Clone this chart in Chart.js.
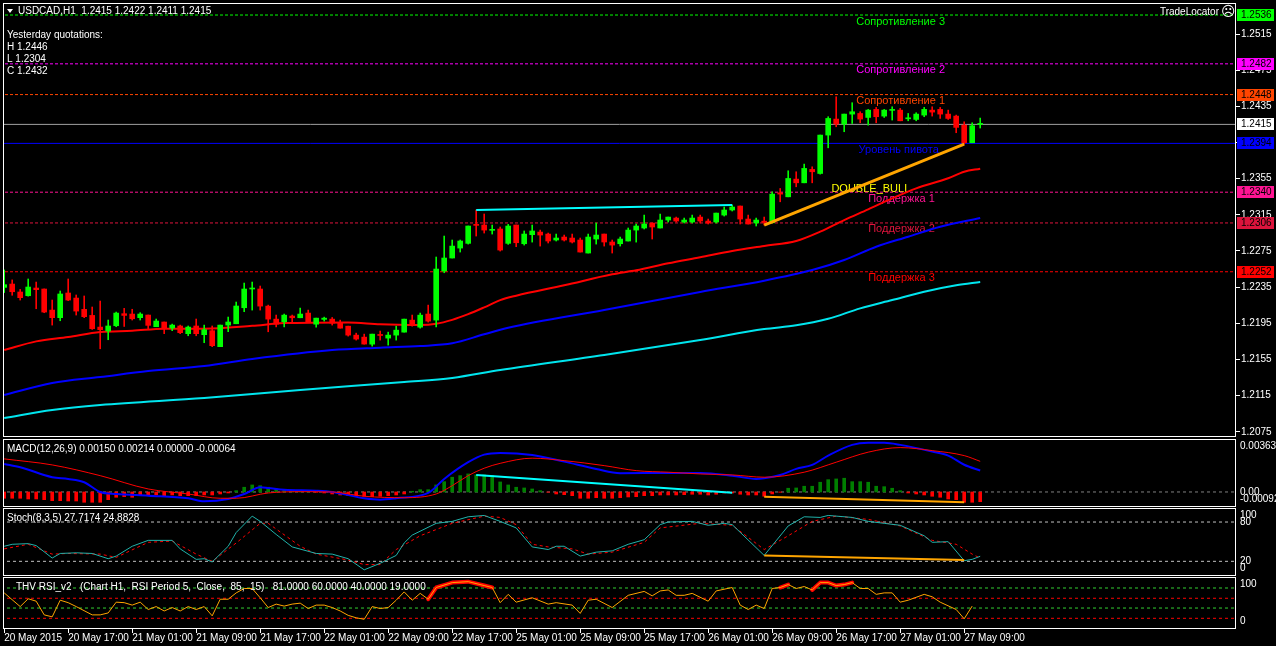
<!DOCTYPE html>
<html>
<head>
<meta charset="utf-8">
<title>USDCAD,H1</title>
<script src="https://cdn.jsdelivr.net/npm/chart.js@4.4.1/dist/chart.umd.min.js"></script>
<style>
  html, body { margin: 0; padding: 0; background: #000; overflow: hidden; }
  canvas { position: absolute; left: 0; }
</style>
</head>
<body>
<canvas id="main" width="1276" height="438" style="top:0"></canvas>
<canvas id="macd" width="1276" height="69" style="top:438px"></canvas>
<canvas id="stoch" width="1276" height="70" style="top:507px"></canvas>
<canvas id="rsi" width="1276" height="70" style="top:576px"></canvas>
<script>
/* USDCAD H1 terminal screenshot: candles + 3 MAs + pivot levels, MACD, Stochastic and RSI panes */

// ---- candles (one per hour, bar 0 = 20 May 09:00) ----
const opens = [1.22347,1.22384,1.22296,1.22255,1.2234,1.22329,1.22096,1.22012,1.22285,1.22229,
  1.22104,1.22037,1.21908,1.21864,1.21923,1.22056,1.22052,1.22012,1.22041,1.21912,
  1.21964,1.21897,1.2192,1.21835,1.2192,1.21824,1.21868,1.21691,1.2193,1.21945,
  1.22122,1.22329,1.22329,1.2214,1.21996,1.21967,1.2203,1.22011,1.22063,1.2194,
  1.21993,1.21996,1.21952,1.21918,1.21819,1.21797,1.21719,1.21823,1.21786,1.21819,
  1.21852,1.21985,1.21907,1.22052,1.21985,1.22528,1.22672,1.22782,1.22834,1.2304,
  1.23037,1.22978,1.22993,1.22834,1.23037,1.2283,1.2293,1.22959,1.22937,1.22871,
  1.22904,1.22893,1.22871,1.22727,1.22882,1.22937,1.22849,1.2283,1.2286,1.22981,
  1.23004,1.23059,1.23004,1.23092,1.23114,1.2307,1.2307,1.23125,1.23081,1.2307,
  1.23147,1.23203,1.23247,1.23103,1.23059,1.2308,1.23061,1.23393,1.23349,1.23545,
  1.23504,1.23652,1.23607,1.24032,1.24209,1.24153,1.24264,1.24271,1.24227,1.24316,
  1.24242,1.24305,1.24308,1.24212,1.24205,1.24253,1.24308,1.24316,1.24264,1.24242,
  1.24142,1.23947,1.2415];
const highs = [1.2254,1.2243,1.22325,1.2244,1.22406,1.2233,1.22207,1.22307,1.2244,1.22263,
  1.22252,1.2213,1.22196,1.21986,1.22074,1.22115,1.22105,1.22067,1.22041,1.21997,
  1.21964,1.21941,1.2193,1.2192,1.21997,1.2193,1.2192,1.2193,1.22019,1.22185,
  1.22395,1.22406,1.22362,1.22151,1.22041,1.22052,1.22041,1.22118,1.22096,1.22007,
  1.22018,1.22014,1.21985,1.21918,1.21841,1.2183,1.2183,1.21864,1.21852,1.21918,
  1.21996,1.22041,1.22063,1.22151,1.22683,1.22915,1.22871,1.22871,1.23026,1.23203,
  1.23159,1.23037,1.23015,1.23044,1.23037,1.22971,1.23037,1.22981,1.22948,1.22937,
  1.22926,1.22937,1.22893,1.22937,1.23059,1.22937,1.22871,1.22904,1.23004,1.23048,
  1.23147,1.23059,1.23158,1.23125,1.23125,1.23114,1.23147,1.23147,1.23103,1.23169,
  1.23236,1.23258,1.23247,1.23147,1.23114,1.23125,1.23404,1.23441,1.23637,1.23626,
  1.23711,1.23681,1.24032,1.24235,1.24456,1.24264,1.2439,1.2429,1.24316,1.24338,
  1.24316,1.24345,1.24327,1.24271,1.24279,1.24338,1.24345,1.24338,1.24308,1.24253,
  1.24179,1.24168,1.2422];
const lows = [1.2229,1.2226,1.22207,1.2225,1.22111,1.22067,1.2193,1.21978,1.222,1.22041,
  1.22012,1.21882,1.21668,1.21768,1.21912,1.21915,1.21986,1.21986,1.21882,1.21912,
  1.21835,1.21868,1.21835,1.21812,1.21812,1.21735,1.21691,1.21691,1.21857,1.21945,
  1.22078,1.22096,1.22096,1.21856,1.2191,1.2191,1.21948,1.22011,1.21963,1.21907,
  1.21974,1.2193,1.21896,1.21808,1.21764,1.21719,1.21697,1.21764,1.21708,1.21764,
  1.21852,1.21918,1.21896,1.21963,1.2191,1.22509,1.22672,1.22738,1.22826,1.22915,
  1.22948,1.22937,1.22749,1.22823,1.22797,1.22815,1.22848,1.22804,1.22838,1.2286,
  1.2286,1.22838,1.22738,1.22727,1.22826,1.22804,1.22727,1.22804,1.2286,1.22848,
  1.22993,1.22882,1.23004,1.2307,1.2307,1.23059,1.23059,1.23059,1.23048,1.23059,
  1.23136,1.23192,1.23048,1.23048,1.23026,1.23037,1.23061,1.23294,1.23349,1.2346,
  1.23504,1.23504,1.236,1.23891,1.24124,1.24069,1.2416,1.24168,1.24142,1.24168,
  1.24227,1.24198,1.2419,1.2419,1.2419,1.24235,1.24242,1.24216,1.24205,1.24058,
  1.23932,1.23947,1.2411];
const closes = [1.22377,1.22299,1.22233,1.22351,1.22322,1.22074,1.22012,1.22274,1.22207,1.22085,
  1.22023,1.2189,1.21879,1.2192,1.22063,1.22037,1.22,1.22052,1.21927,1.21975,
  1.2189,1.2193,1.21846,1.21908,1.21835,1.21879,1.21702,1.2193,1.21964,1.22141,
  1.22329,1.2234,1.2214,1.21996,1.2194,1.2204,1.22011,1.22052,1.21963,1.22007,
  1.22007,1.21952,1.21896,1.21819,1.21775,1.2172,1.2183,1.21815,1.21819,1.21874,
  1.21996,1.2193,1.2204,1.21974,1.2255,1.22672,1.22804,1.2286,1.23026,1.23033,
  1.22981,1.22985,1.2276,1.23026,1.22841,1.22937,1.22971,1.22926,1.2286,1.22893,
  1.22871,1.22849,1.22738,1.22904,1.22926,1.22849,1.22815,1.22882,1.22981,1.23026,
  1.23048,1.23015,1.23092,1.23125,1.23081,1.23092,1.23114,1.23081,1.23059,1.23169,
  1.23203,1.23236,1.23103,1.23048,1.23092,1.23065,1.23379,1.23379,1.23552,1.23504,
  1.23663,1.23626,1.24032,1.24216,1.24153,1.24264,1.2429,1.24209,1.24308,1.24235,
  1.24308,1.24312,1.2419,1.2422,1.24264,1.24316,1.24286,1.24264,1.24216,1.24117,
  1.23947,1.24135,1.2415];

// moving averages, read as [bar, price]
const maRed = [[0,1.21654],[4,1.2175],[8,1.21798],[12,1.21853],[16,1.21867],[20,1.2189],[25,1.2189],
  [31,1.21922],[35,1.21952],[43,1.2196],[47,1.21938],[52,1.2193],[54,1.21944],[56,1.21988],[58,1.22051],
  [60,1.22126],[62,1.22206],[64,1.22255],[70,1.2237],[76,1.22492],[79,1.22536],[83,1.22613],[87,1.2268],
  [91,1.2275],[95,1.22805],[99,1.2286],[102,1.22963],[105,1.23092],[108,1.2321],[111,1.23332],
  [114,1.23443],[118,1.23554],[120,1.23627],[122,1.2366]];
const maBlue = [[0,1.21156],[6,1.21289],[12,1.21355],[18,1.21422],[25,1.21477],[31,1.21555],[41,1.21654],
  [47,1.2168],[52,1.21698],[56,1.21728],[60,1.21828],[63,1.21901],[75,1.22097],[87,1.22296],[95,1.22421],
  [101,1.22539],[105,1.2265],[109,1.22797],[113,1.22908],[117,1.23018],[122,1.23114]];
const maCyan = [[0,1.20902],[6,1.2099],[12,1.21046],[25,1.21123],[37,1.21212],[50,1.213],[56,1.21345],
  [62,1.21433],[75,1.21599],[87,1.21765],[95,1.21886],[99,1.21927],[103,1.22],[107,1.22115],[111,1.22207],
  [115,1.22299],[119,1.2237],[122,1.22406]];

// pivot levels
const levelNames = ['Сопротивление 3', 'Сопротивление 2', 'Сопротивление 1', 'Уровень пивота', 'Поддержка 1', 'Поддержка 2', 'Поддержка 3'];
const levelValues = [1.2536, 1.2482, 1.2448, 1.2394, 1.2340, 1.2306, 1.2252];
const bidPrice = 1.2415;
const priceTicks = [1.2075, 1.2115, 1.2155, 1.2195, 1.2235, 1.2275, 1.2315, 1.2355, 1.2395, 1.2435, 1.2475, 1.2515];

// trend lines drawn on the chart, [bar, value]
const mainCyanLine = [[59, 1.23203], [91, 1.23258]];
const mainOrangeLine = [[95, 1.23037], [120, 1.23932]];

// MACD(12,26,9)
const macdHist = [-0.00044,-0.00044,-0.00044,-0.00049,-0.00049,-0.00054,-0.00061,-0.00061,-0.00063,-0.00063,
  -0.00072,-0.00072,-0.00072,-0.00054,-0.00037,-0.00033,-0.00037,-0.00026,-0.00026,-0.00021,
  -0.00026,-0.00021,-0.00026,-0.00026,-0.00026,-0.00021,-0.00021,-0.00014,-0.00007,0.00009,
  0.00033,0.00049,0.00044,0.00033,0.00021,0.00016,0.00009,0.00005,0.00002,-0.00002,
  -0.00007,-0.00014,-0.00021,-0.00026,-0.0003,-0.0003,-0.00033,-0.0003,-0.00026,-0.00021,
  -0.00014,0.00005,0.00016,0.00016,0.00049,0.00072,0.00103,0.00114,0.00126,0.00119,
  0.00119,0.00114,0.0007,0.00049,0.00033,0.00028,0.00021,0.00009,-0.00002,-0.00014,
  -0.00019,-0.00026,-0.00044,-0.00044,-0.0004,-0.00044,-0.00044,-0.0004,-0.00035,-0.00033,
  -0.00026,-0.00026,-0.00021,-0.00021,-0.00021,-0.00019,-0.00016,-0.00016,-0.00021,-0.00016,
  -0.00007,-0.00007,-0.00016,-0.00021,-0.00021,-0.0003,-0.00014,-0.00002,0.00026,0.00028,
  0.0004,0.0004,0.00068,0.00086,0.00091,0.00096,0.00072,0.00072,0.00068,0.0004,
  0.00037,0.00026,0.00009,-0.00007,-0.00014,-0.00021,-0.0003,-0.00037,-0.00049,-0.00054,
  -0.00072,-0.00072,-0.00068];
const macdMain = [[0,0.00196],[2,0.00173],[6,0.00103],[8,0.00091],[10,0.00068],[12,0],[14,-0.00014],
  [18,-0.00026],[23,-0.00044],[25,-0.00065],[28,-0.00049],[30,-0.00014],[32,0.00033],[33,0.00028],
  [35,0.00016],[39,0.00009],[41,0],[45,-0.00044],[47,-0.00054],[49,-0.00044],[53,-0.00007],[55,0.00091],
  [58,0.00208],[60,0.00261],[62,0.00273],[66,0.00259],[70,0.00212],[74,0.00161],[77,0.00131],[83,0.00133],
  [87,0.00133],[91,0.00114],[94,0.00091],[95,0.00096],[97,0.00119],[99,0.00161],[101,0.00189],[103,0.00254],
  [106,0.00329],[108,0.00343],[110,0.00343],[112,0.00329],[116,0.00282],[118,0.00254],[120,0.0019],[122,0.0015]];
const macdSignal = [[0,0.00231],[6,0.00189],[12,0.00114],[18,0.00021],[23,-0.00014],[27,-0.00044],[29,-0.00044],
  [33,-0.00007],[37,0.00002],[41,0],[45,-0.0003],[50,-0.0004],[54,-0.00014],[56,0.00044],[58,0.00114],
  [60,0.00166],[62,0.002],[66,0.00236],[70,0.00219],[75,0.00184],[79,0.00149],[83,0.00138],[87,0.00126],
  [91,0.00119],[95,0.00103],[100,0.00138],[104,0.00208],[108,0.00278],[112,0.0031],[116,0.00289],
  [120,0.00254],[122,0.00214]];
const macdCyanLine = [[59, 0.00118], [91, -0.00006]];
const macdOrangeLine = [[95, -0.00034], [120, -0.00071]];
const macdTicks = [0.00363, 0, -0.00092];
const macdTickText = ['0.00363', '0.00', '-0.00092'];

// Stochastic(8,3,5)
const stochMain = [[0,43],[1,46],[3,47],[4,44],[6,25],[7,32],[9,33],[11,32],[13,24],[14,28],[16,43],[18,52],
  [21,52],[22,39],[24,23],[25,24],[26,19],[28,43],[29,64],[31,89],[32,81],[34,61],[36,42],[39,32],[41,31],
  [43,24],[45,7],[47,17],[49,29],[50,48],[51,60],[54,78],[56,81],[58,88],[60,90],[62,81],[64,71],[66,42],
  [68,38],[69,43],[70,43],[72,28],[74,34],[76,36],[78,46],[80,53],[82,76],[83,80],[86,81],[88,75],[90,78],
  [91,76],[95,29],[98,74],[100,88],[102,87],[103,90],[106,87],[108,81],[110,78],[112,75],[115,59],[116,49],
  [118,50],[120,21],[121,23],[122,27.7]];
const stochSignal = [[0,39],[3,46],[6,31],[8,32],[12,31],[14,26],[18,49],[21,51],[24,31],[26,20],[29,48],
  [32,78],[33,78],[37,43],[39,31],[43,22],[45,15],[47,15],[49,38],[52,59],[56,78],[60,89],[62,87],[64,76],
  [66,46],[68,42],[71,39],[73,31],[76,34],[80,49],[82,71],[87,78],[91,75],[95,38],[98,59],[101,81],[104,89],
  [108,84],[112,74],[116,52],[119,46],[121,31],[122,24.9]];
const stochOrangeLine = [[95, 29], [120, 22]];
const stochLevels = [80, 20];
const stochTicks = [100, 80, 20, 0];

// THV RSI_v2
const rsiLine = [[0,71],[2,43],[3,59],[4,54],[5,26],[6,22],[7,56],[8,51],[9,43],[11,26],[12,26],[13,30],
  [14,52],[15,51],[16,46],[17,52],[18,37],[19,43],[20,34],[21,41],[22,34],[23,43],[24,37],[25,43],[26,24],
  [27,58],[28,58],[29,71],[30,80],[31,80],[32,61],[33,41],[34,48],[35,44],[36,48],[37,50],[38,39],[39,46],
  [40,46],[41,41],[42,34],[43,25],[44,20],[45,17],[46,43],[47,39],[48,41],[49,56],[50,73],[51,56],[52,70],
  [53,58],[54,82],[56,92],[58,94],[60,86],[61,82],[62,51],[63,68],[64,52],[66,61],[68,48],[69,51],[71,46],
  [72,29],[73,56],[74,58],[76,41],[78,66],[80,74],[81,65],[82,75],[83,77],[84,66],[85,66],[86,70],[88,54],
  [89,75],[91,82],[92,46],[93,37],[94,46],[95,39],[96,80],[97,82],[98,88],[99,80],[100,84],[101,77],
  [102,92],[103,92],[104,86],[105,88],[106,92],[107,80],[108,80],[109,68],[110,71],[111,71],[112,52],
  [113,56],[115,68],[116,63],[117,52],[119,37],[120,18],[121,44]];
const rsiHotRanges = [[53, 61], [97, 98], [101, 106]];
const rsiLevels = [81, 60, 40, 19];
const rsiTicks = [100, 0];

// time axis
const timeTickBars = [0, 8, 16, 24, 32, 40, 48, 56, 64, 72, 80, 88, 96, 104, 112, 120];
const timeLabels = ['20 May 2015', '20 May 17:00', '21 May 01:00', '21 May 09:00', '21 May 17:00', '22 May 01:00',
  '22 May 09:00', '22 May 17:00', '25 May 01:00', '25 May 09:00', '25 May 17:00', '26 May 01:00',
  '26 May 09:00', '26 May 17:00', '27 May 01:00', '27 May 09:00'];

// ---- styling ----
const FONT = '"Liberation Sans", Arial, sans-serif';
const UP = '#00ff00', DOWN = '#ff0000';
const levelColors = ['#00ff00', '#ff00ff', '#ff4500', '#0000ff', '#ff1493', '#dc143c', '#ff0000'];
const levelLabelBars = [106.5, 106.5, 106.5, 106.8, 108, 108, 108];
const XMIN = -0.15, XMAX = 153.975; // 8 px per bar across the plot

Chart.defaults.font.family = FONT;
Chart.defaults.font.size = 10;
Chart.defaults.color = '#ffffff';

const pts = arr => arr.map(([x, y]) => ({ x, y }));
const hLine = v => [{ x: XMIN - 1, y: v }, { x: XMAX + 1, y: v }];
const lineDs = (data, color, width, extra) => Object.assign({
  type: 'line', data, borderColor: color, borderWidth: width, pointRadius: 0, tension: 0, fill: false
}, extra || {});
// no extra room for the first/last tick label, the pane edges are fixed
const noEdgePad = s => { s.paddingTop = 0; s.paddingBottom = 0; s.paddingLeft = 0; s.paddingRight = 0; };

// white frame around each pane
const framePlugin = {
  id: 'frame',
  afterDraw(chart) {
    const { ctx, chartArea: a } = chart;
    ctx.save();
    ctx.strokeStyle = '#ffffff';
    ctx.lineWidth = 1;
    ctx.strokeRect(Math.round(a.left) + 0.5, Math.round(a.top) + 0.5,
      Math.round(a.right - a.left) - 1, Math.round(a.bottom - a.top) - 1);
    ctx.restore();
  }
};

const mainOverlay = {
  id: 'mainOverlay',
  beforeDatasetsDraw(chart) {
    const { ctx, scales: { x, y } } = chart;
    ctx.save();
    ctx.font = '11px ' + FONT;
    ctx.textBaseline = 'top';
    levelValues.forEach((v, k) => {
      ctx.fillStyle = levelColors[k];
      ctx.fillText(levelNames[k], x.getPixelForValue(levelLabelBars[k]), y.getPixelForValue(v) + 1);
    });
    ctx.fillStyle = '#ffff00';
    ctx.fillText('DOUBLE_BULL', x.getPixelForValue(103.4), y.getPixelForValue(1.23502));
    ctx.restore();
  },
  afterDraw(chart) {
    const { ctx, chartArea: a, scales: { y } } = chart;
    ctx.save();
    // header
    ctx.fillStyle = '#ffffff';
    ctx.beginPath();
    ctx.moveTo(7, 9); ctx.lineTo(13, 9); ctx.lineTo(10, 13); ctx.closePath();
    ctx.fill();
    ctx.font = '10px ' + FONT;
    ctx.textBaseline = 'middle';
    ctx.fillText('USDCAD,H1  1.2415 1.2422 1.2411 1.2415', 18, 11);
    ctx.fillText('Yesterday quotations:', 7, 35.5);
    ctx.fillText('H 1.2446', 7, 47.5);
    ctx.fillText('L 1.2304', 7, 59.5);
    ctx.fillText('C 1.2432', 7, 71.5);
    ctx.textAlign = 'right';
    ctx.fillText('TradeLocator', 1219, 12);
    ctx.textAlign = 'left';
    ctx.font = '14px "DejaVu Sans"';
    ctx.fillText('☹', 1221, 12.5);
    // price boxes on the axis
    ctx.font = '10px ' + FONT;
    const boxes = levelValues.map((v, k) => [v, levelColors[k]]).concat([[bidPrice, '#ffffff']]);
    boxes.forEach(([v, c]) => {
      const py = Math.round(y.getPixelForValue(v));
      ctx.fillStyle = c;
      ctx.fillRect(a.right + 1, py - 6, 37, 12);
      ctx.fillStyle = '#000000';
      ctx.fillText(v.toFixed(4), a.right + 5, py);
    });
    ctx.restore();
  }
};

function paneLabels(title, titleX, tickValues, tickText) {
  return {
    id: 'paneLabels',
    afterDraw(chart) {
      const { ctx, chartArea: a, scales: { y } } = chart;
      ctx.save();
      ctx.font = '10px ' + FONT;
      ctx.fillStyle = '#ffffff';
      ctx.textBaseline = 'middle';
      ctx.fillText(title, titleX, a.top + 10);
      tickValues.forEach((v, k) => {
        const py = Math.min(Math.max(y.getPixelForValue(v), a.top + 7.5), a.bottom - 7.5);
        ctx.fillText(tickText[k], a.right + 4, py);
      });
      ctx.restore();
    }
  };
}

const hiddenX = { type: 'linear', min: XMIN, max: XMAX, offset: false, display: false };
const sideY = (min, max) => ({
  position: 'right', min, max,
  afterFit: s => { s.width = 40; noEdgePad(s); },
  ticks: { display: false }, grid: { display: false }, border: { display: false }
});
const baseOptions = (padding, scales) => ({
  responsive: false, animation: false, events: [],
  layout: { padding },
  plugins: { legend: { display: false }, tooltip: { enabled: false } },
  scales
});

// ---- main price pane ----
const bars = opens.map((o, i) => i);
const candleColor = c => (closes[c.dataIndex] >= opens[c.dataIndex] ? UP : DOWN);

new Chart(document.getElementById('main'), {
  type: 'bar',
  data: {
    datasets: [
      ...levelValues.map((v, k) => lineDs(hLine(v), levelColors[k], 1,
        { borderDash: k === 3 ? [] : [3, 2], order: 10 })),
      lineDs(hLine(bidPrice), '#a0a0a0', 1, { order: 9 }),
      lineDs(pts(maCyan), '#00e5ee', 2, { cubicInterpolationMode: 'monotone', order: 8 }),
      lineDs(pts(maBlue), '#0000ff', 2, { cubicInterpolationMode: 'monotone', order: 7 }),
      lineDs(pts(maRed), '#ff0000', 2, { cubicInterpolationMode: 'monotone', order: 6 }),
      { type: 'bar', data: bars.map(i => ({ x: i, y: [lows[i], highs[i]] })), backgroundColor: candleColor,
        barThickness: 1, grouped: false, minBarLength: 1, order: 4 },
      { type: 'bar', data: bars.map(i => ({ x: i, y: [opens[i], closes[i]] })), backgroundColor: candleColor,
        barThickness: 5, grouped: false, minBarLength: 1, order: 3 },
      lineDs(pts(mainCyanLine), '#00ffff', 2, { order: 2 }),
      lineDs(pts(mainOrangeLine), '#ffa500', 3, { order: 1 })
    ]
  },
  options: baseOptions({ left: 3, right: 0, top: 3, bottom: 1 }, {
    x: hiddenX,
    y: {
      position: 'right', min: 1.20692, max: 1.25493,
      afterBuildTicks: s => { s.ticks = priceTicks.map(v => ({ value: v })); },
      afterFit: s => { s.width = 40; noEdgePad(s); },
      ticks: { color: '#ffffff', padding: 1, autoSkip: false, callback: v => v.toFixed(4) },
      grid: { drawOnChartArea: false, color: '#ffffff', tickLength: 4 },
      border: { display: false }
    }
  }),
  plugins: [framePlugin, mainOverlay]
});

// ---- MACD pane ----
new Chart(document.getElementById('macd'), {
  type: 'bar',
  data: {
    datasets: [
      lineDs(hLine(0), '#808080', 1, { borderDash: [3, 3], order: 6 }),
      { type: 'bar', data: macdHist.map((v, i) => ({ x: i, y: v })),
        backgroundColor: c => (c.raw && c.raw.y >= 0 ? '#008000' : '#ff0000'),
        barThickness: 3, grouped: false, order: 5 },
      lineDs(pts(macdMain), '#0000ff', 2, { cubicInterpolationMode: 'monotone', order: 3 }),
      lineDs(pts(macdSignal), '#ff0000', 1, { cubicInterpolationMode: 'monotone', order: 2 }),
      lineDs(pts(macdCyanLine), '#00ffff', 2, { order: 1 }),
      lineDs(pts(macdOrangeLine), '#ffa500', 2, { order: 1 })
    ]
  },
  options: baseOptions({ left: 3, right: 0, top: 1, bottom: 0 }, { x: hiddenX, y: sideY(-0.00105, 0.0037) }),
  plugins: [framePlugin, paneLabels('MACD(12,26,9) 0.00150 0.00214 0.00000 -0.00064', 7, macdTicks, macdTickText)]
});

// ---- Stochastic pane ----
new Chart(document.getElementById('stoch'), {
  type: 'line',
  data: {
    datasets: [
      ...stochLevels.map(v => lineDs(hLine(v), '#c0c0c0', 1, { borderDash: [3, 3], order: 5 })),
      lineDs(pts(stochSignal), '#ff0000', 1, { borderDash: [3, 3], order: 2 }),
      lineDs(pts(stochMain), '#20b2aa', 1, { order: 1 }),
      lineDs(pts(stochOrangeLine), '#ffa500', 2, { order: 0 })
    ]
  },
  options: baseOptions({ left: 3, right: 0, top: 1, bottom: 1 }, { x: hiddenX, y: sideY(-2.4, 101.4) }),
  plugins: [framePlugin, paneLabels('Stoch(8,3,5) 27.7174 24.8828', 7, stochTicks, stochTicks.map(String))]
});

// ---- RSI pane with time axis ----
const rsiLevelColors = ['#32cd32', '#ff0000', '#32cd32', '#ff0000'];
new Chart(document.getElementById('rsi'), {
  type: 'line',
  data: {
    datasets: [
      ...rsiLevels.map((v, k) => lineDs(hLine(v), rsiLevelColors[k], 1, { borderDash: [3, 3], order: 5 })),
      ...rsiHotRanges.map(([a, b]) => lineDs(pts(rsiLine.filter(p => p[0] >= a && p[0] <= b)), '#ff0000', 4,
        { borderCapStyle: 'round', borderJoinStyle: 'round', order: 2 })),
      lineDs(pts(rsiLine), '#ffa500', 1, { order: 1 })
    ]
  },
  options: baseOptions({ left: 3, right: 0, top: 1, bottom: 0 }, {
    x: {
      type: 'linear', min: XMIN, max: XMAX, offset: false,
      afterBuildTicks: s => { s.ticks = timeTickBars.map(v => ({ value: v })); },
      afterFit: s => { s.height = 17; noEdgePad(s); },
      ticks: { color: '#ffffff', align: 'start', maxRotation: 0, minRotation: 0, autoSkip: false, padding: -1,
        callback: (v, i) => timeLabels[i] },
      grid: { drawOnChartArea: false, color: '#ffffff', tickLength: 4 },
      border: { display: false }
    },
    y: sideY(-2.9, 103.5)
  }),
  plugins: [framePlugin, paneLabels('THV RSI_v2   (Chart H1,  RSI Period 5,  Close,  85,  15)   81.0000 60.0000 40.0000 19.0000', 16, rsiTicks, rsiTicks.map(String))]
});
</script>
</body>
</html>
